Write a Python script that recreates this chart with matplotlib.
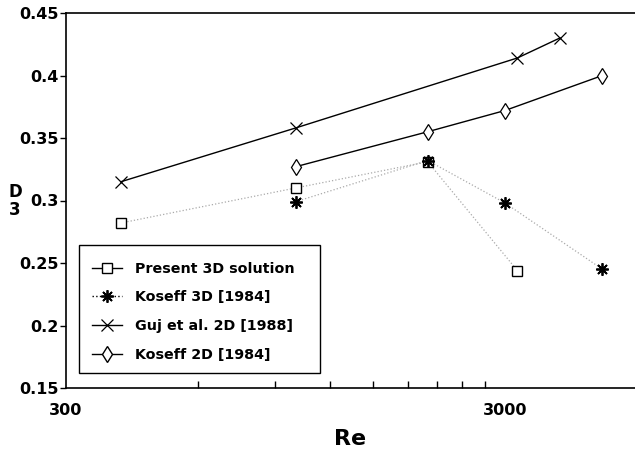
import matplotlib
matplotlib.use("Agg")
import matplotlib.pyplot as plt
from matplotlib.lines import Line2D
from matplotlib.patches import Rectangle
import numpy as np

plt.rcParams['font.family'] = ['DejaVu Sans']
plt.rcParams['font.weight'] = 'bold'

re_present = [400, 1000, 2000, 3200]
d3_present = [0.282, 0.310, 0.331, 0.244]

re_koseff3d = [1000, 2000, 3000, 5000]
d3_koseff3d = [0.299, 0.332, 0.298, 0.245]

re_guj = [400, 1000, 3200, 4000]
d3_guj = [0.315, 0.358, 0.414, 0.430]

re_koseff2d = [1000, 2000, 3000, 5000]
d3_koseff2d = [0.327, 0.355, 0.372, 0.400]

labels = ["Present 3D solution", "Koseff 3D [1984]", "Guj et al. 2D [1988]", "Koseff 2D [1984]"]
xtick_labels = ["300", "3000"]
yticks = [0.15, 0.2, 0.25, 0.3, 0.35, 0.4, 0.45]
ytick_labels = ["0.15", "0.2", "0.25", "0.3", "0.35", "0.4", "0.45"]

W, H = 635, 449
fig = plt.figure(figsize=(W/100, H/100), dpi=100)
ax = fig.add_axes([66/W, 61/H, 569/W, 375/H])

star = (8, 2, 0)
gray = '#aaaaaa'
ax.plot(re_present, d3_present, linestyle=':', color=gray, lw=0.9, zorder=1)
ax.plot(re_present, d3_present, linestyle='none', marker='s', ms=6.5, mfc='white', mec='black', mew=1.0, zorder=3)
ax.plot(re_koseff3d, d3_koseff3d, linestyle=':', color=gray, lw=0.9, zorder=1)
ax.plot(re_koseff3d, d3_koseff3d, linestyle='none', marker=star, ms=9, mec='black', mew=1.3, zorder=3)
ax.plot(re_guj, d3_guj, linestyle='-', color='black', lw=1.0, marker='x', ms=8, mew=0.9, zorder=2)
ax.plot(re_koseff2d, d3_koseff2d, linestyle='-', color='black', lw=1.0, marker='d', ms=8.5, mfc='white', mec='black', mew=0.9, zorder=2)

ax.set_xscale('log')
xmax = 300 * 10 ** (569 / 439)
ax.set_xlim(300, xmax)
ax.set_ylim(0.15, 0.45)

ax.set_xticks([300, 3000])
ax.set_xticklabels(xtick_labels, fontsize=11.5, fontweight='bold')
ax.set_xticks([600, 900, 1200, 1500, 1800, 2100, 2400, 2700], minor=True)
ax.xaxis.set_minor_formatter(matplotlib.ticker.NullFormatter())
ax.tick_params(axis='x', which='both', direction='in', length=5, width=1.0, pad=11)
ax.tick_params(axis='x', which='major', length=0)

ax.set_yticks(yticks)
ax.set_yticklabels(ytick_labels, fontsize=11.5, fontweight='bold')
ax.tick_params(axis='y', direction='out', length=4, width=1.0, pad=1.5)
ax.yaxis.set_minor_locator(matplotlib.ticker.NullLocator())

for s in ['left', 'bottom', 'top']:
    ax.spines[s].set_linewidth(1.2)
ax.spines['right'].set_visible(False)

ax.set_xlabel("Re", fontsize=16, fontweight='bold', labelpad=8)
fig.text(15/W, 1 - 201/H, "D\n3", ha='center', va='center', fontsize=12, fontweight='bold', linespacing=0.95)

handles = [
    Line2D([], [], color='black', lw=1.0, marker='s', ms=6.5, mfc='white', mec='black'),
    Line2D([], [], color='black', lw=1.0, linestyle=':', marker=star, ms=9, mew=1.3),
    Line2D([], [], color='black', lw=1.0, marker='x', ms=8, mew=0.9),
    Line2D([], [], color='black', lw=1.0, marker='d', ms=8.5, mfc='white', mec='black'),
]
leg = ax.legend(handles, labels, loc='upper left',
                bbox_to_anchor=(79/W, 1 - 249/H), bbox_transform=fig.transFigure,
                frameon=False, prop={'weight': 'bold', 'size': 10.3},
                handlelength=2.1, handletextpad=0.9,
                labelspacing=1.02, borderpad=0.9, borderaxespad=0)
rect = Rectangle((79/W, 1 - 373/H), (320-79)/W, (373-245)/H, transform=fig.transFigure,
                 fill=True, facecolor='white', edgecolor='black', lw=1.0, zorder=4)
ax.add_patch(rect)
rect.set_clip_on(False)
leg.set_zorder(5)

fig.savefig("out.png", dpi=100)
